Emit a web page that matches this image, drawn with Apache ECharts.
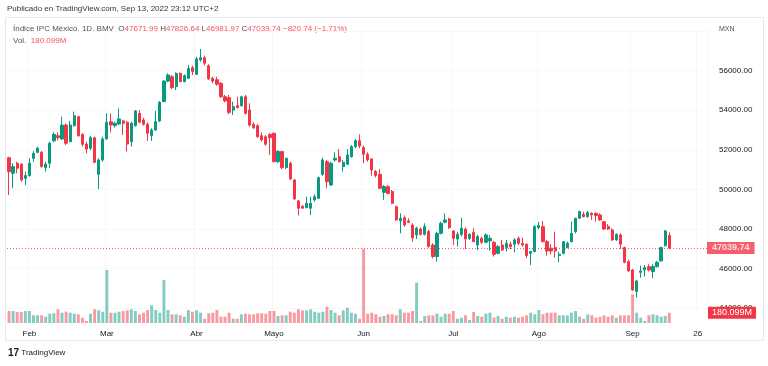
<!DOCTYPE html>
<html>
<head>
<meta charset="utf-8">
<script src="https://cdn.jsdelivr.net/npm/echarts@6/dist/echarts.min.js"></script>
<style>
html,body{margin:0;padding:0;background:#fff;}
#c{width:768px;height:366px;}
</style>
</head>
<body>
<div id="c"></div>
<script>
// ---- DATA ----
const startDate = '2022-01-25';
const holidays = ['2022-02-07','2022-03-21','2022-04-14','2022-04-15','2022-09-16'];
const totalSlots = 172; // 163 sessions + future slots to the right edge
const monthLabels = ['Ene','Feb','Mar','Abr','Mayo','Jun','Jul','Ago','Sep','Oct'];
const extraTickDate = '2022-09-26';
const extraTickLabel = '26';
const priceTicks = [44000, 46000, 48000, 50000, 52000, 54000, 56000, 58000];

const opens = [51600,50810,51320,51270,50560,50700,51570,51870,51870,51100,51320,52450,52710,52550,53250,52410,53220,53670,52780,52290,
52080,52610,50760,51490,52550,53420,53220,53300,53460,53390,52410,53220,53840,53510,53290,52710,53000,53460,54430,55470,
55690,55190,55860,55440,55610,56150,55810,56540,56650,56250,55610,55540,55360,54680,54630,54010,54230,54230,54680,54010,
53290,53220,52710,52660,52780,52830,51400,51910,51100,51320,50480,49420,49150,49080,49050,49470,49550,50760,51400,50220,
51490,51650,51150,51270,51650,52160,52460,52110,51770,51540,50900,50760,49850,50140,49890,49130,48410,48570,48410,48200,
47700,48000,47730,47870,47190,46610,47780,48340,48510,47900,47500,47730,48000,47530,47830,47190,47530,47330,47400,47330,
46770,47190,47060,47230,47230,47530,47280,47230,46770,46860,48070,48120,47360,47030,47060,46660,46770,47060,47360,47870,
48540,48740,48630,48790,48790,48710,48370,48120,47950,47450,47700,47060,46350,45930,44840,45810,45930,46100,45850,46100,
46390,47160,47671.99];
const highs = [51650,51320,51400,51320,50900,51570,51940,52160,51940,51400,52410,52880,52880,53670,53340,53460,53930,53720,52830,52410,
52710,52660,51570,52660,53840,53840,53420,54090,53500,53460,53420,54010,54010,53620,53390,53090,53960,54460,55530,55860,
55780,55910,55910,55810,56280,56250,56700,57090,56750,56320,55690,55690,55410,54770,54770,54430,54680,54730,54770,54350,
53390,53290,52880,52750,52830,52880,51990,51940,51600,51400,50530,49470,49210,49630,49630,49750,50650,51600,51490,51400,
51870,52040,51490,52040,52240,52550,52780,52210,51870,51570,50980,51030,50220,50220,49970,49180,48790,48680,48540,48290,
48120,48070,48290,47950,47280,47870,48370,48790,48570,47950,47870,48570,48070,47780,48040,47700,47620,47780,47700,47400,
47190,47450,47450,47360,47530,47620,47560,47280,46890,48200,48370,48410,47450,47230,47870,46860,47400,47360,48370,48570,
48930,48880,48910,48840,48840,48790,48410,48240,48040,47780,47780,47110,46440,45980,45420,46150,46180,46220,46220,46390,
47110,47950,47826.64];
const lows = [49720,50060,50810,50390,50220,50640,51400,51820,51100,50900,51070,52380,52480,52500,52240,52380,53170,52660,52160,51820,
51990,51320,50020,51400,52500,52880,53120,53250,52750,51910,52160,53170,53340,53220,52450,52450,52950,53390,54400,55410,
55070,55020,55410,55410,55580,55780,55780,56450,56250,55530,55360,55240,54630,54400,53790,53760,54090,54180,53790,53170,
53050,52610,52410,52210,51740,51370,51320,51030,51030,50480,49470,48680,49010,49050,48710,49380,49520,50690,50060,50190,
51400,51370,50900,51230,51600,52080,52080,51320,51400,50690,50600,50020,49470,49750,49250,48410,47780,48120,48290,47360,
47490,47670,47670,47060,46520,46350,47730,48290,48000,47190,47110,47620,46990,47450,47360,46940,47230,47280,46900,46610,
46720,46890,46860,46990,46820,47190,47110,46520,46180,46820,47990,47330,46650,46720,46550,46320,46720,47030,47330,47780,
48510,48570,48570,48460,48370,48410,47950,47950,47400,47400,46990,46270,45850,44870,44540,45540,45600,45850,45510,46050,
46350,47110,46981.97];
const closes = [50900,51150,51070,50480,50700,51320,51820,52080,51150,51270,52330,52780,52610,53250,52330,53250,53720,52710,52280,52040,
52610,51370,51490,52550,53390,53250,53340,53560,53340,52290,53340,53960,53390,53290,52830,53000,53420,54400,55470,55780,
55140,55860,55440,55740,56110,55950,56590,56650,56370,55580,55470,55310,54680,54470,53890,54180,54130,54680,53840,53250,
53120,52660,52500,52280,52610,51400,51910,51100,51570,50530,49520,49050,49050,49300,49300,49630,50590,51490,50390,51320,
51570,51400,51370,51740,52160,52460,52190,51770,51490,50980,50700,50060,50140,49800,49300,48460,48540,48200,48340,47560,
48040,47730,48120,47110,46610,47780,48290,48460,48070,47530,47730,48040,47500,47730,47360,47620,47330,47700,47530,46720,
47110,46940,47280,47110,47450,47280,47190,46660,46860,48120,48170,47360,46890,46890,46890,46720,47360,47280,47780,48540,
48880,48630,48840,48710,48680,48460,48000,48000,47450,47730,47230,46320,45880,44920,45380,45880,46050,45930,46100,46320,
47060,47900,47039.74];
// volume in millions
const volumes = [210,210,193,193,210,210,135,135,135,110,163,170,240,180,198,180,163,152,93,35,
163,240,222,198,928,180,180,198,210,222,240,210,152,180,228,310,228,180,753,228,
152,152,135,110,228,198,222,180,75,170,180,228,110,110,180,75,75,152,163,152,
152,170,170,163,210,210,123,135,135,198,180,240,222,222,240,198,180,198,285,228,
180,135,222,268,180,163,75,1300,163,180,152,110,123,152,152,135,240,180,180,210,
705,35,123,135,135,163,110,163,163,210,75,93,135,53,193,123,110,163,180,93,
123,75,110,93,110,93,110,135,180,152,228,152,180,180,180,135,135,135,180,210,
110,75,152,135,93,110,135,110,135,93,135,135,135,502,180,93,35,135,152,135,
110,123,180.099];

const headerTop = 'Publicado en TradingView.com, Sep 13, 2022 23:12 UTC+2';
const symbolName = 'Índice IPC México, 1D, BMV';
const changeText = '\u2212820.74 (\u22121.71%)';
const volText = '180.099M';
const currency = 'MXN';

// ---- build ----
function pad(n){return n<10?'0'+n:''+n;}
const dates = [];
(function(){
  const d = new Date(startDate + 'T00:00:00Z');
  while (dates.length < totalSlots) {
    const wd = d.getUTCDay();
    const s = d.getUTCFullYear() + '-' + pad(d.getUTCMonth()+1) + '-' + pad(d.getUTCDate());
    if (wd !== 0 && wd !== 6 && holidays.indexOf(s) < 0) dates.push(s);
    d.setUTCDate(d.getUTCDate()+1);
  }
})();
function isTick(idx){
  if (dates[idx] === extraTickDate) return true;
  return idx > 0 && dates[idx].slice(5,7) !== dates[idx-1].slice(5,7);
}
function tickText(val){
  if (val === extraTickDate) return extraTickLabel;
  return monthLabels[parseInt(val.slice(5,7),10)-1];
}

const UP = '#089981', DOWN = '#f23645';
const UPV = 'rgba(8,153,129,0.5)', DOWNV = 'rgba(242,54,69,0.5)';
const candleData = opens.map((o,i)=>[o, closes[i], lows[i], highs[i]]);
const volData = volumes.map((v,i)=>({value:v, itemStyle:{color: closes[i] >= opens[i] ? UPV : DOWNV}}));
const lastClose = closes[closes.length-1];
const lastVol = volumes[volumes.length-1];
const FONT = '"Liberation Sans", Arial, sans-serif';

const chart = echarts.init(document.getElementById('c'), null, {renderer:'canvas'});
const gridL = 7, gridR = 60;
chart.setOption({
  animation:false,
  backgroundColor:'#fff',
  textStyle:{fontFamily:FONT},
  grid:[
    {left:gridL, right:gridR, top:31, bottom:366-308.2},
    {left:gridL, right:gridR, bottom:43, height:100}
  ],
  xAxis:[
    {type:'category', data:dates, gridIndex:0, boundaryGap:true,
     axisLine:{show:false}, axisTick:{show:false}, axisLabel:{show:false},
     splitLine:{show:true, interval:(i)=>isTick(i), lineStyle:{color:'#f6f7f9', width:1}}},
    {type:'category', data:dates, gridIndex:1, boundaryGap:true,
     axisLine:{show:false}, axisTick:{show:false},
     axisLabel:{show:true, interval:(i)=>isTick(i), formatter:(v)=>tickText(v), color:'#131722', fontSize:8, margin:7, fontFamily:FONT},
     splitLine:{show:false}}
  ],
  yAxis:[
    {type:'value', gridIndex:0, position:'right', min:priceTicks[0], max:priceTicks[priceTicks.length-1], interval:2000,
     axisLine:{show:false}, axisTick:{show:false},
     axisLabel:{color:'#131722', fontSize:8, margin:11, fontFamily:FONT,
       formatter:(v)=> v === priceTicks[priceTicks.length-1] ? '' : v.toFixed(2)},
     splitLine:{show:true, lineStyle:{color:'#f6f7f9'}}},
    {type:'value', gridIndex:1, min:0, max:1750, show:false, splitLine:{show:false}}
  ],
  series:[
    {type:'candlestick', xAxisIndex:0, yAxisIndex:0, data:candleData, barWidth:'68%',
     itemStyle:{color:UP, color0:DOWN, borderColor:UP, borderColor0:DOWN, borderWidth:1},
     markLine:{symbol:['none','none'], silent:true,
       lineStyle:{color:DOWN, type:[1,2], width:1, opacity:0.8},
       label:{show:true, position:'end', distance:-1, formatter:()=>lastClose.toFixed(2),
         backgroundColor:DOWN, color:'#fff', fontWeight:'bold', fontSize:9, padding:[2,5,1,5], fontFamily:FONT},
       data:[{yAxis:lastClose}]}},
    {type:'bar', xAxisIndex:1, yAxisIndex:1, data:volData, barWidth:'72%', z:1,
     markLine:{symbol:['none','none'], silent:true,
       lineStyle:{color:'rgba(0,0,0,0)', width:1},
       label:{show:true, position:'end', distance:0, formatter:()=>volText,
         backgroundColor:DOWN, color:'#fff', fontSize:9, padding:[2,4,1,4], fontFamily:FONT},
       data:[{yAxis:lastVol}]}}
  ],
  graphic:[
    {type:'rect', silent:true, z:-1, shape:{x:5.5, y:17.5, width:758, height:323},
     style:{fill:'none', stroke:'#e6e8ee', lineWidth:1}},
    {type:'text', left:7, top:5, style:{text:headerTop, font:'8px ' + FONT, fill:'#333'}},
    {type:'text', left:13, top:25, style:{
      text:'{t|' + symbolName + '}  {k|O}{v|' + opens[opens.length-1].toFixed(2) + '} {k|H}{v|' + highs[highs.length-1].toFixed(2) +
           '} {k|L}{v|' + lows[lows.length-1].toFixed(2) + '} {k|C}{v|' + lastClose.toFixed(2) + '} {v|' + changeText + '}',
      font:'8px ' + FONT,
      rich:{t:{fill:'#50535e', fontSize:8, fontFamily:FONT}, k:{fill:'#50535e', fontSize:8, fontFamily:FONT}, v:{fill:'#f7525f', fontSize:8, fontFamily:FONT}}
    }},
    {type:'text', left:13, top:37, style:{
      text:'{k|Vol.}  {v|' + volText + '}', font:'8px ' + FONT,
      rich:{k:{fill:'#50535e', fontSize:8, fontFamily:FONT}, v:{fill:'#f7525f', fontSize:8, fontFamily:FONT}}
    }},
    {type:'text', left:719, top:26, style:{text:currency, font:'7px ' + FONT, fill:'#50535e'}},
    {type:'text', left:8, top:348, style:{
      text:'{l|17}{n| TradingView}',
      rich:{l:{fill:'#131722', fontSize:10, fontWeight:900, fontFamily:FONT}, n:{fill:'#131722', fontSize:8, fontFamily:FONT}}
    }}
  ]
});
</script>
</body>
</html>
